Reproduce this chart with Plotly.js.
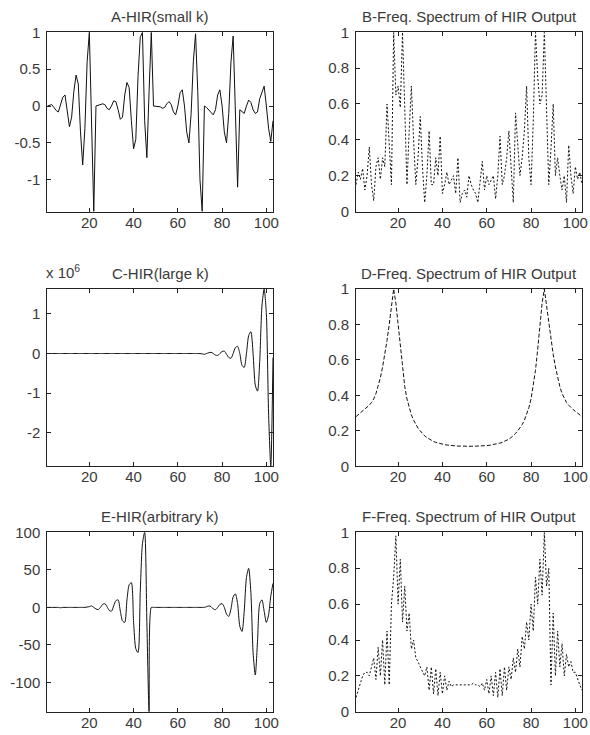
<!DOCTYPE html>
<html>
<head>
<meta charset="utf-8">
<script src="https://cdn.plot.ly/plotly-3.0.1.min.js"></script>
<style>html,body{margin:0;padding:0;background:#fff;}#chart{width:590px;height:735px;}</style>
</head>
<body>
<div id="chart"></div>
<script>
// ---- Data ----
const panelTitles = [
  "A-HIR(small k)", "B-Freq. Spectrum of HIR Output",
  "C-HIR(large k)", "D-Freq. Spectrum of HIR Output",
  "E-HIR(arbitrary k)", "F-Freq. Spectrum of HIR Output"
];

// A: HIR (small k)
const hirSmallK = [
  0.00, 0.01, 0.02, -0.02, -0.06, -0.08, 0.02, 0.12, 0.15, -0.05,
  -0.28, -0.15, 0.20, 0.42, 0.30, -0.35, -0.80, -0.30, 0.60, 1.00,
  -0.20, -1.43, 0.00, 0.01, 0.02, 0.03, 0.02, -0.03, -0.05, 0.00,
  0.07, 0.06, -0.05, -0.18, -0.15, 0.15, 0.32, 0.25, -0.20, -0.58,
  -0.45, 0.40, 0.93, 1.00, -0.20, -0.70, 0.20, 1.00, 0.00, 0.00,
  0.00, -0.01, -0.03, -0.02, 0.03, 0.06, 0.02, -0.08, -0.12, 0.00,
  0.18, 0.22, 0.00, -0.35, -0.50, -0.10, 0.60, 0.98, 0.20, -1.00,
  -1.43, 0.00, -0.02, -0.05, -0.08, -0.12, -0.05, 0.15, 0.22, 0.00,
  -0.35, -0.50, -0.10, 0.60, 0.95, 0.00, -1.10, -0.05, -0.08, -0.10,
  0.00, 0.08, 0.05, -0.05, -0.10, -0.08, 0.10, 0.20, 0.27, 0.00,
  -0.30, -0.48, -0.20
];

// B: spectrum of HIR output (small k)
const specSmallK = [
  0.15, 0.22, 0.18, 0.24, 0.12, 0.20, 0.36, 0.15, 0.06, 0.25,
  0.30, 0.18, 0.30, 0.25, 0.60, 0.35, 0.15, 1.00, 0.65, 0.70,
  0.58, 1.00, 0.55, 0.15, 0.45, 0.70, 0.40, 0.15, 0.30, 0.53,
  0.25, 0.05, 0.20, 0.45, 0.15, 0.15, 0.30, 0.20, 0.42, 0.10,
  0.15, 0.22, 0.15, 0.18, 0.20, 0.10, 0.30, 0.05, 0.10, 0.12,
  0.08, 0.20, 0.15, 0.12, 0.10, 0.05, 0.15, 0.28, 0.12, 0.20,
  0.15, 0.18, 0.20, 0.07, 0.20, 0.42, 0.15, 0.20, 0.30, 0.45,
  0.25, 0.05, 0.55, 0.35, 0.20, 0.30, 0.45, 0.70, 0.30, 0.15,
  0.50, 1.00, 0.75, 0.60, 0.65, 1.00, 0.50, 0.15, 0.35, 0.60,
  0.20, 0.30, 0.20, 0.12, 0.20, 0.05, 0.37, 0.20, 0.10, 0.25,
  0.18, 0.22, 0.15
];

// C: HIR (large k), in units of 10^6
const hirLargeK = [
  0,0,0,0,0,0,0,0,0,0, 0,0,0,0,0,0,0,0,0,0,
  0,0,0,0,0,0,0,0,0,0, 0,0,0,0,0,0,0,0,0,0,
  0,0,0,0,0,0,0,0,0,0, 0,0,0,0,0,0,0,0,0,0,
  0,0,0,0,0,0,0,0,0,0,
  -0.01, -0.02, 0.00, 0.02, 0.03, 0.00, -0.04, -0.05, 0.00, 0.05,
  0.06, -0.02, -0.10, -0.12, 0.00, 0.15, 0.18, 0.00, -0.30, -0.35,
  0.00, 0.45, 0.55, 0.00, -0.80, -0.95, -0.20, 1.20, 1.63, 1.00,
  -1.50, -2.85, -0.10
];

// D: spectrum of HIR output (large k)
const specLargeK = [
  0.28, 0.29, 0.30, 0.31, 0.32, 0.33, 0.345, 0.36, 0.38, 0.41,
  0.45, 0.50, 0.56, 0.63, 0.71, 0.80, 0.90, 1.00, 0.92, 0.80,
  0.66, 0.54, 0.45, 0.38, 0.33, 0.29, 0.26, 0.235, 0.215, 0.20,
  0.185, 0.172, 0.162, 0.153, 0.146, 0.14, 0.135, 0.131, 0.127, 0.124,
  0.122, 0.12, 0.118, 0.117, 0.116, 0.115, 0.114, 0.114, 0.113, 0.113,
  0.113, 0.113, 0.113, 0.113, 0.113, 0.114, 0.114, 0.115, 0.116, 0.117,
  0.118, 0.12, 0.122, 0.124, 0.127, 0.131, 0.135, 0.14, 0.146, 0.153,
  0.162, 0.172, 0.185, 0.20, 0.215, 0.235, 0.26, 0.29, 0.33, 0.38,
  0.45, 0.54, 0.66, 0.80, 0.92, 1.00, 0.90, 0.80, 0.71, 0.63,
  0.56, 0.50, 0.45, 0.41, 0.38, 0.36, 0.345, 0.33, 0.32, 0.31,
  0.30, 0.29, 0.28
];

// E: HIR (arbitrary k)
const hirArbitraryK = [
  0, 0, 0, 0, 0, 0, -0.5, 0, 0, 0,
  0, 0, 0, 0, 0, 0, 0, 0, 0.5, 1,
  2, 0, -2, -3, 0, 4, 5, 1, -4, -5,
  2, 9, 10, -5, -18, -20, 10, 30, 33, -20,
  -55, -60, 20, 85, 100, -20, -139, 0, 0, 0,
  0, 0, 0, 0, 0, 0, 0, 0, 0, 0,
  0, 0, 0, 0, 0, 0, 0, 0, 0, 0,
  0, 0, 1, 2, 1, -2, -3, 0, 4, 5,
  0, -9, -12, -2, 14, 18, 5, -25, -32, -5,
  40, 52, 20, -60, -90, -45, 5, 10, -5, -20,
  -10, 15, 32
];

// F: spectrum of HIR output (arbitrary k)
const specArbitraryK = [
  0.08, 0.12, 0.16, 0.20, 0.22, 0.22, 0.20, 0.25, 0.30, 0.18,
  0.36, 0.20, 0.40, 0.15, 0.45, 0.15, 0.60, 0.75, 0.98, 0.60,
  0.85, 0.50, 0.70, 0.45, 0.55, 0.35, 0.40, 0.30, 0.28, 0.25,
  0.22, 0.20, 0.25, 0.12, 0.25, 0.10, 0.24, 0.09, 0.22, 0.10,
  0.20, 0.12, 0.17, 0.14, 0.15, 0.15, 0.15, 0.15, 0.15, 0.15,
  0.15, 0.15, 0.15, 0.16, 0.15, 0.15, 0.14, 0.16, 0.12, 0.18,
  0.10, 0.20, 0.09, 0.22, 0.08, 0.24, 0.09, 0.25, 0.12, 0.25,
  0.18, 0.30, 0.22, 0.35, 0.25, 0.42, 0.35, 0.50, 0.40, 0.60,
  0.45, 0.75, 0.60, 0.85, 0.65, 1.00, 0.70, 0.80, 0.15, 0.55,
  0.20, 0.45, 0.25, 0.38, 0.20, 0.32, 0.25, 0.28, 0.22, 0.22,
  0.18, 0.15, 0.12
];

const xTickVals = [20, 40, 60, 80, 100];
const xTickText = ["20", "40", "60", "80", "100"];
const yTicksA = [-1, -0.5, 0, 0.5, 1];
const yTickTextA = ["-1", "-0.5", "0", "0.5", "1"];
const yTicksSpec = [0, 0.2, 0.4, 0.6, 0.8, 1];
const yTickTextSpec = ["0", "0.2", "0.4", "0.6", "0.8", "1"];
const yTicksC = [-2, -1, 0, 1];
const yTickTextC = ["-2", "-1", "0", "1"];
const yTicksE = [-100, -50, 0, 50, 100];
const yTickTextE = ["-100", "-50", "0", "50", "100"];

// ---- Layout geometry ----
const W = 590, H = 735;
const colX = [[47.3, 273], [356, 582]];
const rowY = [[32.3, 211.5], [289, 466.3], [532.3, 711.8]];
const font = {family: "Liberation Sans, Arial, sans-serif", size: 15, color: "#3a3a3a"};

function xdom(c){ return [colX[c][0]/W, colX[c][1]/W]; }
function ydom(r){ return [1 - rowY[r][1]/H, 1 - rowY[r][0]/H]; }

function axisBase(){
  return {
    showline: true, linecolor: "#222", linewidth: 1, mirror: "ticks",
    ticks: "inside", ticklen: 4, tickcolor: "#222", tickwidth: 1,
    showgrid: false, zeroline: false, tickfont: font, fixedrange: true
  };
}

const panels = [
  {data: hirSmallK,      col: 0, row: 0, yr: [-1.43, 1],   tv: yTicksA,    tt: yTickTextA,    dash: "solid",   shape: "linear"},
  {data: specSmallK,     col: 1, row: 0, yr: [0, 1],       tv: yTicksSpec, tt: yTickTextSpec, dash: "2px,2px", shape: "linear"},
  {data: hirLargeK,      col: 0, row: 1, yr: [-2.85, 1.63],tv: yTicksC,    tt: yTickTextC,    dash: "solid",   shape: "spline"},
  {data: specLargeK,     col: 1, row: 1, yr: [0, 1],       tv: yTicksSpec, tt: yTickTextSpec, dash: "4px,2px", shape: "linear"},
  {data: hirArbitraryK,  col: 0, row: 2, yr: [-139, 100],  tv: yTicksE,    tt: yTickTextE,    dash: "solid",   shape: "spline"},
  {data: specArbitraryK, col: 1, row: 2, yr: [0, 1],       tv: yTicksSpec, tt: yTickTextSpec, dash: "2px,2px", shape: "linear"}
];

const traces = [];
const layout = {
  width: W, height: H, margin: {l: 0, r: 0, t: 0, b: 0},
  paper_bgcolor: "#fff", plot_bgcolor: "#fff", showlegend: false,
  font: font, annotations: []
};

panels.forEach((p, i) => {
  const k = i === 0 ? "" : String(i + 1);
  const xs = p.data.map((_, j) => j + 1);
  traces.push({
    type: "scatter", mode: "lines", x: xs, y: p.data,
    xaxis: "x" + k, yaxis: "y" + k, cliponaxis: true,
    line: {color: "#111", width: 1, dash: p.dash, shape: p.shape, smoothing: 0.7},
    hoverinfo: "skip"
  });
  const xa = Object.assign(axisBase(), {
    domain: xdom(p.col), range: [1, 103], tickvals: xTickVals, ticktext: xTickText,
    anchor: "y" + k, ticklabelstandoff: -3
  });
  const ya = Object.assign(axisBase(), {
    domain: ydom(p.row), range: p.yr, tickvals: p.tv, ticktext: p.tt,
    anchor: "x" + k, ticklabelstandoff: 3
  });
  layout["xaxis" + k] = xa;
  layout["yaxis" + k] = ya;
  const cx = (colX[p.col][0] + colX[p.col][1]) / 2 / W;
  layout.annotations.push({
    text: panelTitles[i], xref: "paper", yref: "paper",
    x: cx, y: 1 - (rowY[p.row][0] - 15.5) / H, xanchor: "center", yanchor: "middle",
    showarrow: false, font: font
  });
});

// exponent label for panel C
layout.annotations.push({
  text: "x 10<sup>6</sup>", xref: "paper", yref: "paper",
  x: 44 / W, y: 1 - 272 / H, xanchor: "left", yanchor: "middle",
  showarrow: false, font: font
});

Plotly.newPlot("chart", traces, layout, {staticPlot: true, displayModeBar: false});
</script>
</body>
</html>
